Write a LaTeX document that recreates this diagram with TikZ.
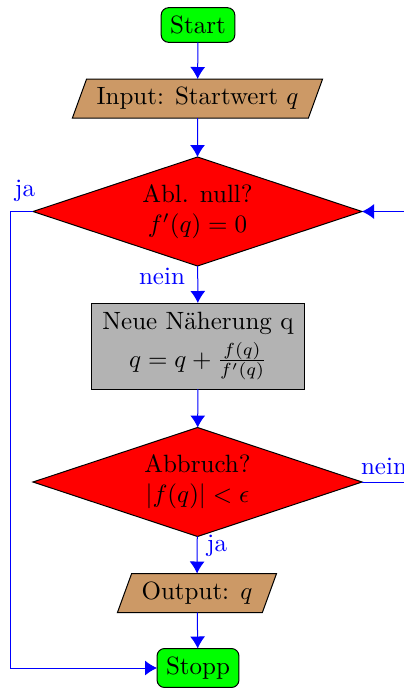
\documentclass[tikz,border=0pt]{standalone}
\usetikzlibrary{shapes.geometric,arrows.meta}
\definecolor{iocol}{RGB}{204,153,102}
\definecolor{boxgray}{RGB}{179,179,179}
\definecolor{termgreen}{RGB}{0,255,0}
\begin{document}
\begin{tikzpicture}[x=0.4pt,y=-0.4pt,
  terminal/.style={draw=black, fill=termgreen, rounded corners=3pt, inner xsep=3.6pt, inner ysep=3.3pt, outer sep=0pt, line width=0.4pt},
  iobox/.style={draw=black, fill=iocol, trapezium, trapezium left angle=70, trapezium right angle=110, inner xsep=4pt, inner ysep=3.3pt, outer sep=0pt},
  decision/.style={draw=black, fill=red, diamond, aspect=3.02, minimum width=131.6pt, minimum height=43.6pt, inner sep=0pt, outer sep=0pt, align=center},
  process/.style={draw=black, fill=boxgray, minimum width=84.8pt, minimum height=34.4pt, align=center, inner sep=1pt, outer sep=0pt},
  flow/.style={draw=blue, line width=0.4pt, -{Latex[length=4.8pt,width=6pt]}},
  plain/.style={draw=blue, line width=0.4pt},
  lbl/.style={text=blue, inner sep=1pt}
]
\useasboundingbox (0,0) rectangle (404,689);
\clip (0,0) rectangle (404,689);

\node[terminal] (start) at (198,25) {Start};
\node[iobox] (input) at (197.5,98.5) {Input: Startwert $q$};
\node[decision] (d1) at (197.5,211.5) {Abl. null?\\$f'(q)=0$};
\node[process] (calc) at (198,346) {Neue N\"aherung q\\[2pt]$q=q+\frac{f(q)}{f'(q)}$};
\node[decision] (d2) at (197.5,482) {Abbruch?\\$|f(q)|<\epsilon$};
\node[iobox] (output) at (197,593) {Output: $q$};
\node[terminal] (stopp) at (198,668) {Stopp};

\coordinate (L) at (10,211.5);
\coordinate (Rin) at (420,211.5);
\coordinate (Rout) at (420,482);

\draw[flow] (start) -- (input);
\draw[flow] (input) -- (d1);
\draw[flow] (d1) -- (calc);
\draw[flow] (calc) -- (d2);
\draw[flow] (d2) -- (output);
\draw[flow] (output) -- (stopp);
\draw[flow] (d1.west) -- (L) |- (stopp.west);
\draw[flow] (Rin) -- (d1.east);
\draw[plain] (d2.east) -- (Rout);

\node[lbl] (ja1) at (25,191) {ja};
\node[lbl] (nein1) at (162,276) {nein};
\node[lbl] (nein2) at (384,466) {nein};
\node[lbl] (ja2) at (217,546) {ja};
\end{tikzpicture}
\end{document}
